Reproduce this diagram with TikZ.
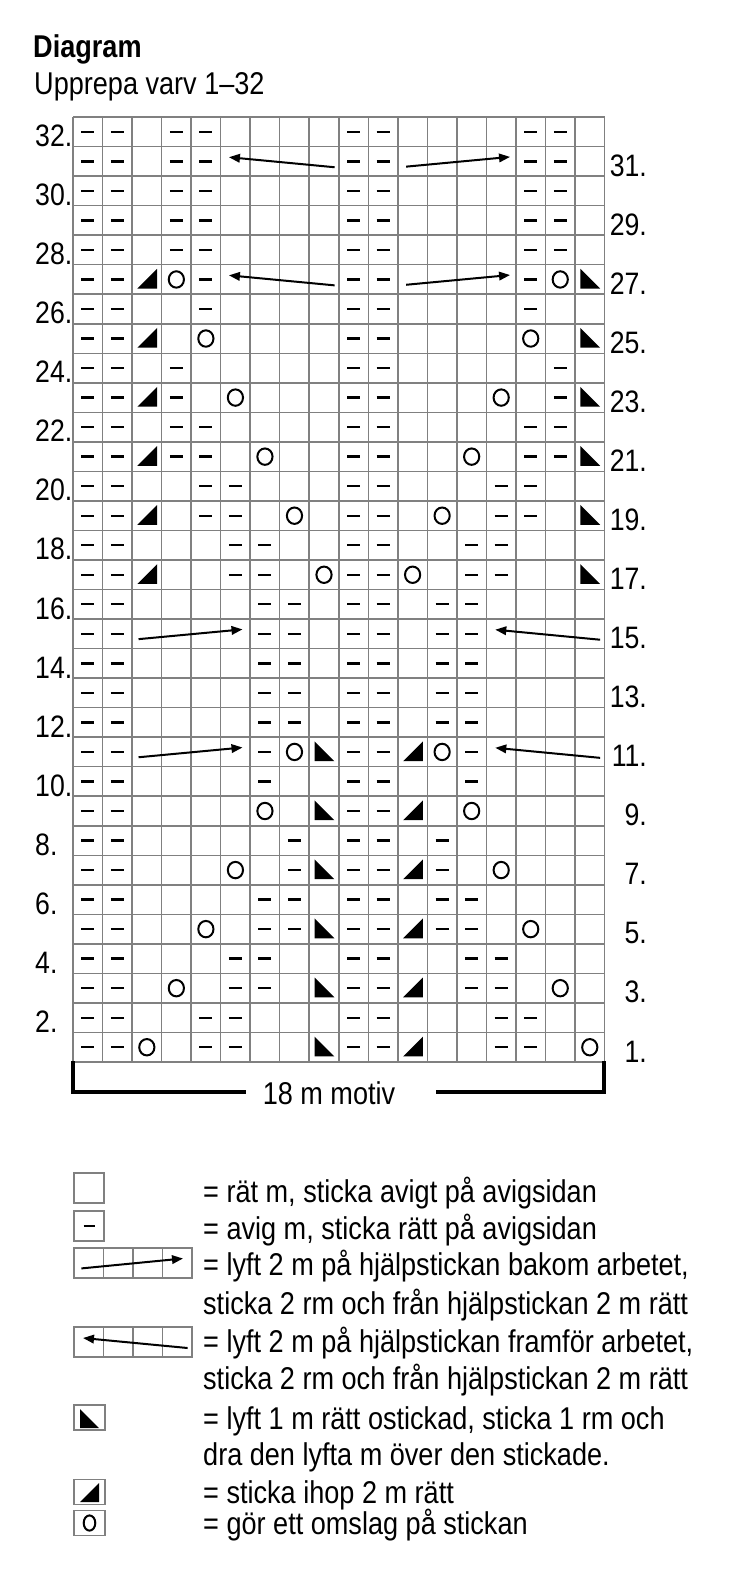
\documentclass[tikz,border=0pt]{standalone}
\usepackage{fontspec}
\setmainfont{Liberation Sans}[FakeStretch=0.86]
\usepackage{tikz}
\usetikzlibrary{arrows.meta,positioning}
\definecolor{chartgray}{RGB}{128,128,128}

\begin{document}
\begin{tikzpicture}[
  x=1pt, y=-1pt,
  txt/.style={anchor=base west, inner sep=0pt, font=\fontsize{31.5}{36}\selectfont},
  gridline/.style={draw=chartgray, line width=1.5pt},
  legbox/.style={draw=chartgray, line width=1.5pt, inner sep=0pt, minimum width=30pt, minimum height=30pt},
  purl/.style={line width=2.4pt},
  yo/.style={line width=2pt},
  cable/.style={-{Triangle[length=11pt,width=8.5pt]}, line width=2pt},
  bracket/.style={line width=4pt}
]
\useasboundingbox (0,0) rectangle (731,1596);
\fill[white] (0,0) rectangle (731,1596);

\node[txt, font={\fontsize{31.5}{36}\selectfont\bfseries}] (title) at (33,57) {Diagram};
\node[txt] (repeat) at (34,94) {Upprepa varv 1–32};

% chart, one unit = one stitch
\begin{scope}[shift={(73,1062)}, x=29.53pt, y=29.53pt]
  \draw[gridline, step=1] (0,0) grid (18,32);
  % purl stitches
  \foreach \rows/\cols in {{28,29,30,31,32}/{0,1,3,4,9,10,15,16}, {26,27}/{0,1,4,9,10,15},
      {25}/{0,1,9,10}, {23,24}/{0,1,3,9,10,16}, {21,22}/{0,1,3,4,9,10,15,16},
      {19,20}/{0,1,4,5,9,10,14,15}, {17,18}/{0,1,5,6,9,10,13,14},
      {12,13,14,15,16}/{0,1,6,7,9,10,12,13}, {10,11}/{0,1,6,9,10,13}, {9}/{0,1,9,10},
      {7,8}/{0,1,7,9,10,12}, {5,6}/{0,1,6,7,9,10,12,13}, {3,4}/{0,1,5,6,9,10,13,14},
      {1,2}/{0,1,4,5,9,10,14,15}}
    \foreach \r in \rows \foreach \c in \cols
      \draw[purl] (\c+.28,\r-.5) -- (\c+.72,\r-.5);
  % yarn overs
  \foreach \c/\r in {3/27,16/27,4/25,15/25,5/23,14/23,6/21,13/21,7/19,12/19,8/17,11/17,
      7/11,12/11,6/9,13/9,5/7,14/7,4/5,15/5,3/3,16/3,2/1,17/1}
    \draw[yo] (\c+.5,\r-.5) ellipse [x radius=7.6pt, y radius=8.2pt];
  % decreases
  \foreach \c/\d/\r in {2/17/17,2/17/19,2/17/21,2/17/23,2/17/25,2/17/27,
      11/8/1,11/8/3,11/8/5,11/8/7,11/8/9,11/8/11} {
    \fill (\c+.18,\r-.81) -- (\c+.85,\r-.81) -- (\c+.85,\r-.14) -- cycle;
    \fill (\d+.18,\r-.81) -- (\d+.18,\r-.14) -- (\d+.85,\r-.81) -- cycle;
  }
  % cables
  \foreach \r in {27,31} {
    \draw[cable] (8.86,\r-.70) -- (5.28,\r-.36);
    \draw[cable] (11.28,\r-.68) -- (14.8,\r-.35);
  }
  \foreach \r in {11,15} {
    \draw[cable] (2.22,\r-.68) -- (5.74,\r-.35);
    \draw[cable] (17.85,\r-.70) -- (14.3,\r-.36);
  }
  % row numbers
  \foreach \r in {2,4,...,32}
    \node[txt, font=\fontsize{31}{36}\selectfont] (row\r) at (-1.287,\r-1) {\r.};
  \foreach \r in {1,3,...,31}
    \node[txt, font=\fontsize{31}{36}\selectfont, anchor=base east] (row\r) at (19.44,\r-1) {\r.};
\end{scope}

% motif bracket
\node[txt, anchor=base] (motiv) at (329,1104) {18 m motiv};
\coordinate (brl) at (73,1061);
\coordinate (brr) at (604,1061);
\draw[bracket] (brl) |- (246,1092);
\draw[bracket] (brr) |- (436,1092);

% legend
\node[legbox] (knit) at (89,1188) {};
\node[legbox] (purlbox) at (89,1226) {};
\draw[purl] ([xshift=-5.5pt]purlbox.center) -- ([xshift=5.5pt]purlbox.center);
\node[legbox, minimum width=118pt] (cbbox) at (133,1263) {};
\node[legbox, minimum width=118pt] (cfbox) at (133,1342) {};
\foreach \i in {1,2,3} {
  \draw[gridline] (74+29.5*\i,1248) -- ++(0,30);
  \draw[gridline] (74+29.5*\i,1327) -- ++(0,30);
}
\draw[cable] (81.4,1268.4) -- (183,1258.5);
\draw[cable] (187.6,1348) -- (83,1338);
\node[legbox, minimum width=31pt, minimum height=25pt] (sskbox) at (89.5,1417.5) {};
\fill (80,1428) -- (80,1409) -- (99,1428) -- cycle;
\node[legbox, minimum width=31pt, minimum height=25pt] (ktbox) at (89.5,1492) {};
\fill (80,1502) -- (99,1502) -- (99,1483) -- cycle;
\node[legbox, minimum width=31pt, minimum height=25pt] (yobox) at (89.5,1523) {};
\draw[yo] (yobox.center) ellipse [x radius=5.8pt, y radius=7.6pt];

\node[txt] (t1) at (203,1202) {= rät m, sticka avigt på avigsidan};
\node[txt] (t2) at (203,1239) {= avig m, sticka rätt på avigsidan};
\node[txt] (t3) at (203,1275) {= lyft 2 m på hjälpstickan bakom arbetet,};
\node[txt] (t4) at (203,1314) {sticka 2 rm och från hjälpstickan 2 m rätt};
\node[txt] (t5) at (203,1352) {= lyft 2 m på hjälpstickan framför arbetet,};
\node[txt] (t6) at (203,1389) {sticka 2 rm och från hjälpstickan 2 m rätt};
\node[txt] (t7) at (203,1429) {= lyft 1 m rätt ostickad, sticka 1 rm och};
\node[txt] (t8) at (203,1465) {dra den lyfta m över den stickade.};
\node[txt] (t9) at (203,1503) {= sticka ihop 2 m rätt};
\node[txt] (t10) at (203,1534) {= gör ett omslag på stickan};
\end{tikzpicture}
\end{document}
